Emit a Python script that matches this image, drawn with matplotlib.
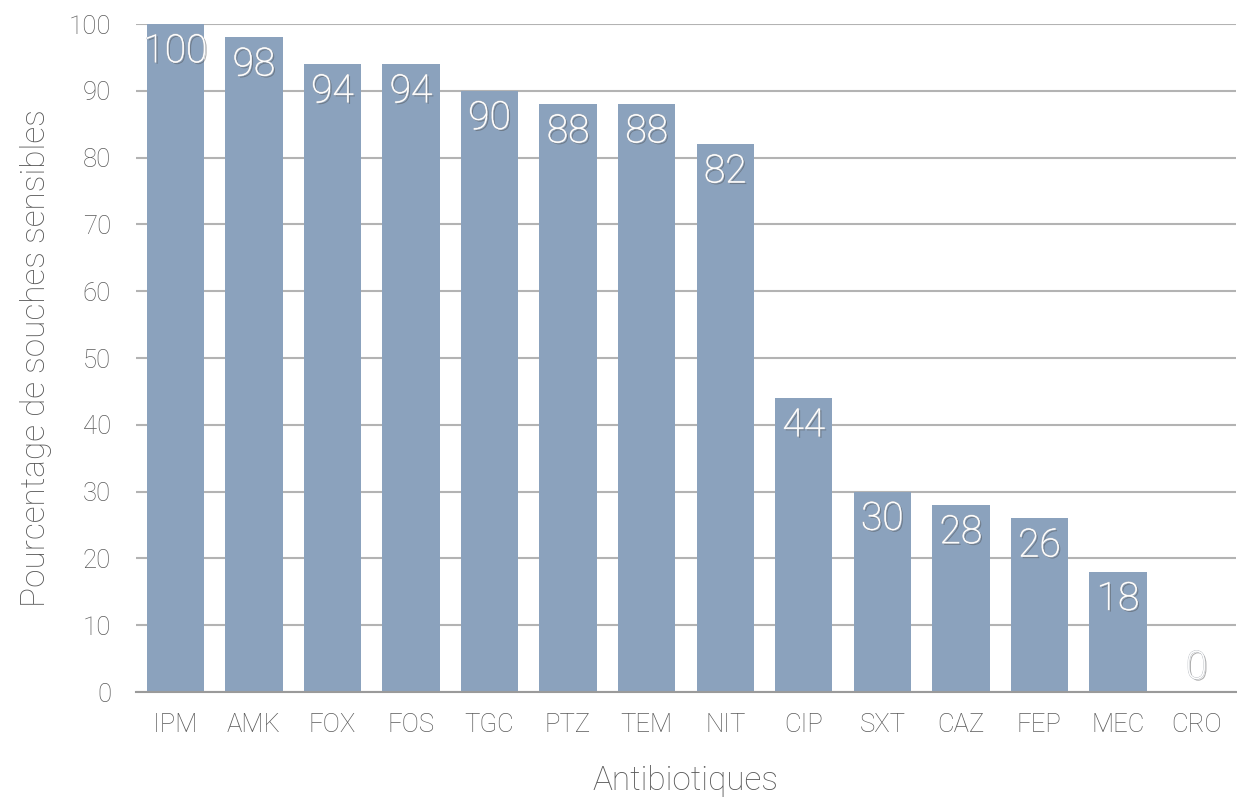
import matplotlib
matplotlib.use("Agg")
import matplotlib.pyplot as plt
import matplotlib.patheffects as pe

antibiotics = ["IPM", "AMK", "FOX", "FOS", "TGC", "PTZ", "TEM", "NIT",
               "CIP", "SXT", "CAZ", "FEP", "MEC", "CRO"]
pct_sensible = [100, 98, 94, 94, 90, 88, 88, 82, 44, 30, 28, 26, 18, 0]
yticks = [0, 10, 20, 30, 40, 50, 60, 70, 80, 90, 100]

plt.rcParams['font.family'] = ['Roboto', 'DejaVu Sans']
plt.rcParams['font.weight'] = 'light'
plt.rcParams['axes.labelweight'] = 'light'

fig = plt.figure(figsize=(12.37, 8), dpi=100)
ax = fig.add_axes([0.110, 0.135, 0.889, 0.835])

x = list(range(len(antibiotics)))
ax.bar(x, pct_sensible, width=0.73, color="#8ba2bd", zorder=2)

ax.set_xlim(-0.5, len(antibiotics) - 0.5)
ax.set_ylim(0, 100)
ax.set_yticks(yticks)
ax.yaxis.grid(True, color="#b3b3b3", linewidth=1.5, zorder=0)
ax.set_axisbelow(True)
for s in ["top", "right", "left"]:
    ax.spines[s].set_visible(False)
ax.spines["bottom"].set_color("#9a9a9a")
ax.spines["bottom"].set_linewidth(1.5)
ax.tick_params(length=0, labelsize=18.5, labelcolor="#5a5a5a")
ax.tick_params(axis="x", pad=15)
ax.tick_params(axis="y", pad=18)
ax.set_xticks(x)
ax.set_xticklabels(antibiotics)

# white value labels with a soft grey shadow
label_fx = [pe.withSimplePatchShadow(offset=(1.2, -1.2), shadow_rgbFace="#4a4a4a", alpha=0.45),
            pe.withStroke(linewidth=0.8, foreground="#b8bcc2"), pe.Normal()]
for xi, v in zip(x, pct_sensible):
    if v > 10:
        ax.text(xi, v - 1.3, str(v), ha="center", va="top", fontsize=28,
                color="white", path_effects=label_fx, zorder=3)
    else:
        ax.text(xi, v + 0.8, str(v), ha="center", va="bottom", fontsize=28,
                color="white", path_effects=label_fx, zorder=3)

ax.set_xlabel("Antibiotiques", fontsize=24, color="#5a5a5a", labelpad=20)
ax.set_ylabel("Pourcentage de souches sensibles", fontsize=24,
              color="#5a5a5a", labelpad=12)

fig.savefig("out.png", dpi=100)
